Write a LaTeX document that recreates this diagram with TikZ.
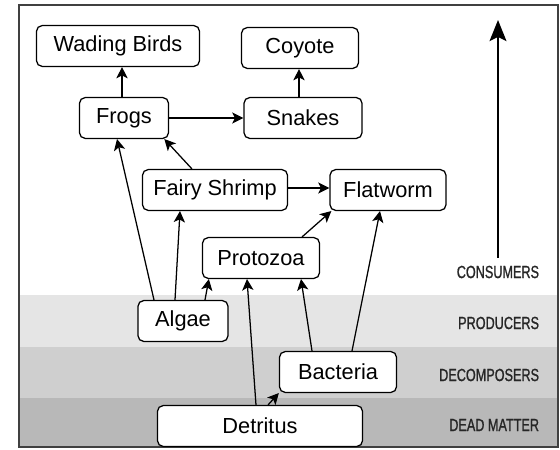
\documentclass[tikz,border=0pt]{standalone}
\usepackage{fontspec}
\setmainfont{Liberation Sans}
\newfontfamily\bandfont[FakeStretch=0.72,FakeBold=1]{Liberation Sans}
\usetikzlibrary{arrows.meta}

\tikzset{
  organism/.style={draw, fill=white, rounded corners=4pt, line width=0.9pt,
    minimum height=1.02cm, inner sep=0pt,
    font=\fontsize{15.5}{18}\selectfont},
  feeds/.style={-{Stealth[length=8pt,width=8pt,inset=2pt]}, line width=0.9pt},
  band/.style={anchor=east, font=\bandfont\fontsize{12.5}{14}\selectfont, text=black!85}
}

\begin{document}
\begin{tikzpicture}
        \useasboundingbox (0,0) rectangle (14,11.225);
        % levels
        \fill[black!10] (0.475,2.55) rectangle (13.95,3.85);
        \fill[black!19] (0.475,1.275) rectangle (13.95,2.55);
        \fill[black!28] (0.475,0.05) rectangle (13.95,1.275);
        \draw[black!75, line width=1.3pt] (0.475,0.05) rectangle (13.95,11.1);
        \node[band] (consumers) at (13.6,4.425) {CONSUMERS};
        \node[band] (producers) at (13.6,3.15) {PRODUCERS};
        \node[band] (decomposers) at (13.6,1.85) {DECOMPOSERS};
        \node[band] (deadmatter) at (13.6,0.6) {DEAD MATTER};
        \coordinate (low) at (12.45,4.775);
        \coordinate (high) at (12.45,10.725);
        \draw[-{Stealth[length=15pt,width=12pt,inset=3pt]}, line width=1.4pt] (low) -- (high);
        % organisms
        \node[organism, minimum width=4.075cm] (wading) at (2.95,10.075) {Wading Birds};
        \node[organism, minimum width=2.925cm] (coyote) at (7.5,10.025) {Coyote};
        \node[organism, minimum width=2.225cm] (frogs) at (3.1,8.275) {Frogs};
        \node[organism, minimum width=2.95cm] (snakes) at (7.575,8.275) {Snakes};
        \node[organism, minimum width=3.625cm] (shrimp) at (5.375,6.475) {Fairy Shrimp};
        \node[organism, minimum width=2.9cm] (flatworm) at (9.7,6.475) {Flatworm};
        \node[organism, minimum width=2.925cm] (protozoa) at (6.525,4.775) {Protozoa};
        \node[organism, minimum width=2.25cm] (algae) at (4.575,3.2) {Algae};
        \node[organism, minimum width=2.925cm] (bacteria) at (8.45,1.925) {Bacteria};
        \node[organism, minimum width=5.125cm] (detritus) at (6.5,0.575) {Detritus};
        % who eats whom
        \draw[feeds] ([xshift=-0.05cm]frogs.north) -- ([xshift=-0.05cm]frogs.north |- wading.south);
        \draw[feeds] ([xshift=-0.1cm]snakes.north) -- ([xshift=-0.1cm]snakes.north |- coyote.south);
        \draw[feeds] (frogs.east) -- (snakes.west);
        \draw[feeds] ([xshift=-0.575cm]shrimp.north) -- ([xshift=-0.12cm]frogs.south east);
        \draw[feeds] ([xshift=-0.725cm]algae.north) -- ([xshift=-0.175cm]frogs.south);
        \draw[feeds] ([xshift=-0.2cm]algae.north) -- ([xshift=-0.875cm]shrimp.south);
        \draw[feeds] ([xshift=0.55cm]algae.north) -- ([xshift=0.175cm]protozoa.south west);
        \draw[feeds] ([yshift=0.05cm]shrimp.east) -- ([yshift=0.05cm]shrimp.east -| flatworm.west);
        \draw[feeds] ([xshift=1.025cm]protozoa.north) -- ([xshift=0.05cm]flatworm.south west);
        \draw[feeds] ([xshift=0.35cm]bacteria.north) -- ([xshift=-0.2cm]flatworm.south);
        \draw[feeds] ([xshift=-0.65cm]bacteria.north) -- ([xshift=1.0cm]protozoa.south);
        \draw[feeds] ([xshift=-0.1cm]detritus.north) -- ([xshift=-0.35cm]protozoa.south);
        \draw[feeds] ([xshift=0.2cm]detritus.north) -- (bacteria.south west);
    \end{tikzpicture}
\end{document}
